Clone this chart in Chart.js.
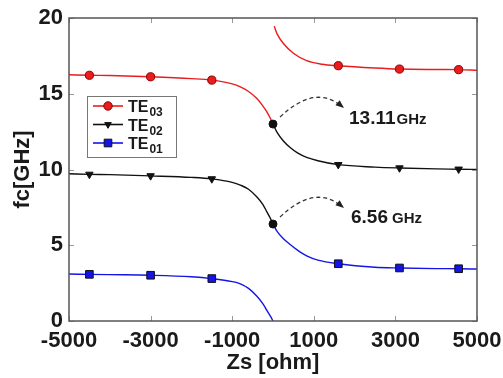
<!DOCTYPE html>
<html>
<head>
<meta charset="utf-8">
<script src="https://cdn.jsdelivr.net/npm/chart.js@4/dist/chart.umd.min.js"></script>
<style>
  html, body { margin: 0; padding: 0; background: #fff; }
  #wrap { width: 503px; height: 378px; }
</style>
</head>
<body>
<div id="wrap"><canvas id="fc-chart" width="503" height="378"></canvas></div>
<script>
// curve samples (Zs in ohm, fc in GHz)
var zLeft = [-5000, -4500, -4000, -3000, -2000, -1500, -1000, -800, -600, -400, -250, -150, -50, 0];
var te03Left = [16.25, 16.22, 16.2, 16.12, 16.0, 15.9, 15.65, 15.45, 15.15, 14.7, 14.2, 13.8, 13.3, 13.0];
var te02Left = [9.72, 9.68, 9.66, 9.58, 9.48, 9.38, 9.15, 8.97, 8.7, 8.2, 7.7, 7.2, 6.7, 6.4];
var te01Left = [3.1, 3.08, 3.06, 3.02, 2.92, 2.8, 2.6, 2.45, 2.15, 1.65, 1.15, 0.7, 0.25, 0];

var zRight = [0, 100, 250, 420, 600, 825, 1100, 1600, 2500, 3100, 4000, 4550, 5000];
var te02Right = [13.0, 12.45, 11.9, 11.45, 11.1, 10.8, 10.58, 10.32, 10.16, 10.1, 10.04, 10.02, 10.0];
var te01Right = [6.4, 5.92, 5.45, 5.05, 4.68, 4.3, 4.02, 3.78, 3.55, 3.5, 3.46, 3.45, 3.43];

var zTop = [30, 100, 250, 500, 825, 1200, 1600, 2500, 3100, 4000, 4550, 5000];
var te03Right = [19.45, 18.95, 18.33, 17.67, 17.18, 16.95, 16.85, 16.7, 16.63, 16.6, 16.59, 16.55];

// marker positions
var zMarkLeft = [-4500, -3000, -1500];
var zMarkRight = [1600, 3100, 4550];
var te03Marks = [16.22, 16.12, 15.9, 16.85, 16.63, 16.59];
var te02Marks = [9.68, 9.58, 9.38, 10.32, 10.1, 10.02];
var te01Marks = [3.08, 3.02, 2.8, 3.78, 3.5, 3.45];

// mode crossing points at Zs = 0
var zCross = [0, 0];
var fCross = [13.0, 6.4];
var crossLabels = ['13.11', '6.56'];

var xTicks = [-5000, -3000, -1000, 1000, 3000, 5000];
var yTicks = [0, 5, 10, 15, 20];

var RED = 'rgb(235,28,30)';
var BLACK = '#111';
var BLUE = 'rgb(20,20,232)';
var FONT = '"Liberation Sans", Arial, Helvetica, sans-serif';

function pts(xs, ys) {
  return xs.map(function (x, i) { return { x: x, y: ys[i] }; });
}

function curve(data, color) {
  return {
    data: data, showLine: true, borderColor: color, borderWidth: 1.4,
    pointRadius: 0, cubicInterpolationMode: 'monotone', order: 2
  };
}

function marks(data, style, fill, edge, radius, rotation) {
  return {
    data: data, showLine: false, pointStyle: style, pointRadius: radius,
    pointRotation: rotation || 0, pointBackgroundColor: fill,
    pointBorderColor: edge, pointBorderWidth: 1, order: 1
  };
}

var markZ = zMarkLeft.concat(zMarkRight);

var styles = {
  te03: { style: 'circle', fill: RED, edge: 'rgb(140,0,0)', radius: 4.1, rotation: 0, line: RED },
  te02: { style: 'triangle', fill: BLACK, edge: BLACK, radius: 4.3, rotation: 180, line: BLACK },
  te01: { style: 'rect', fill: BLUE, edge: '#111', radius: 5.4, rotation: 0, line: BLUE }
};

var decorPlugin = {
  id: 'decor',
  afterDatasetsDraw: function (chart) {
    var ctx = chart.ctx;
    var a = chart.chartArea;
    var xs = chart.scales.x, ys = chart.scales.y;
    ctx.save();

    // inward ticks
    ctx.strokeStyle = '#9a9a9a';
    ctx.lineWidth = 1;
    ctx.beginPath();
    xTicks.forEach(function (v) {
      var px = Math.round(xs.getPixelForValue(v)) + 0.5;
      ctx.moveTo(px, a.bottom); ctx.lineTo(px, a.bottom - 5);
      ctx.moveTo(px, a.top); ctx.lineTo(px, a.top + 5);
    });
    yTicks.forEach(function (v) {
      var py = Math.round(ys.getPixelForValue(v)) + 0.5;
      ctx.moveTo(a.left, py); ctx.lineTo(a.left + 5, py);
      ctx.moveTo(a.right, py); ctx.lineTo(a.right - 5, py);
    });
    ctx.stroke();

    // frame
    ctx.strokeStyle = '#555';
    ctx.lineWidth = 1.5;
    ctx.strokeRect(a.left, a.top, a.right - a.left, a.bottom - a.top);

    // dashed arrows and labels at the crossing points
    fCross.forEach(function (f, i) {
      var x0 = xs.getPixelForValue(zCross[i]);
      var y0 = ys.getPixelForValue(f);
      var sx = x0 + 7, sy = y0 - 7;
      var ex = x0 + 71, ey = y0 - 16;
      var cx = x0 + 42, cy = y0 - 40;
      ctx.setLineDash([4, 3]);
      ctx.strokeStyle = '#333';
      ctx.lineWidth = 1.3;
      ctx.beginPath();
      ctx.moveTo(sx, sy);
      ctx.quadraticCurveTo(cx, cy, ex - 3, ey - 2);
      ctx.stroke();
      ctx.setLineDash([]);
      // arrow head
      var ang = Math.atan2(ey - cy, ex - cx);
      ctx.fillStyle = '#222';
      ctx.beginPath();
      ctx.moveTo(ex, ey);
      ctx.lineTo(ex - 9 * Math.cos(ang - 0.38), ey - 9 * Math.sin(ang - 0.38));
      ctx.lineTo(ex - 9 * Math.cos(ang + 0.38), ey - 9 * Math.sin(ang + 0.38));
      ctx.closePath();
      ctx.fill();
      // text
      ctx.fillStyle = '#1a1a1a';
      ctx.textBaseline = 'alphabetic';
      ctx.textAlign = 'left';
      ctx.font = 'bold 19px ' + FONT;
      var tx = x0 + 76 + (i === 1 ? 2 : 0), ty = y0 + (i === 1 ? -1 : 0);
      ctx.fillText(crossLabels[i], tx, ty);
      var w = ctx.measureText(crossLabels[i]).width;
      ctx.font = 'bold 15px ' + FONT;
      ctx.fillText('GHz', tx + w + (i === 1 ? 4 : 1), ty);
    });

    // legend
    var lx = a.left + 18, ly = a.top + 78, lw = 89, lh = 61;
    ctx.fillStyle = '#fff';
    ctx.fillRect(lx, ly, lw, lh);
    ctx.strokeStyle = '#777';
    ctx.lineWidth = 1;
    ctx.strokeRect(lx + 0.5, ly + 0.5, lw, lh);
    var rows = [['te03', '03'], ['te02', '02'], ['te01', '01']];
    rows.forEach(function (r, i) {
      var s = styles[r[0]];
      var yy = ly + 10 + i * 18.5;
      ctx.strokeStyle = s.line;
      ctx.lineWidth = 1.6;
      ctx.beginPath();
      ctx.moveTo(lx + 6, yy); ctx.lineTo(lx + 36, yy);
      ctx.stroke();
      ctx.fillStyle = s.fill;
      ctx.strokeStyle = s.edge;
      ctx.lineWidth = 1;
      Chart.helpers.drawPoint(ctx, {
        pointStyle: s.style, rotation: s.rotation,
        radius: s.style === 'rect' ? 5.4 : (s.style === 'triangle' ? 3.8 : 4.2),
        borderWidth: 1
      }, lx + 21, yy);
      ctx.fillStyle = '#1a1a1a';
      ctx.textAlign = 'left';
      ctx.textBaseline = 'alphabetic';
      ctx.font = 'bold 16px ' + FONT;
      ctx.fillText('TE', lx + 41, yy + 6);
      var tw = ctx.measureText('TE').width;
      ctx.font = 'bold 12px ' + FONT;
      ctx.fillText(r[1], lx + 42 + tw, yy + 10);
    });

    ctx.restore();
  }
};

var canvas = document.getElementById('fc-chart');
var chart = new Chart(canvas, {
  type: 'scatter',
  data: {
    datasets: [
      curve(pts(zLeft, te03Left), RED),
      curve(pts(zTop, te03Right), RED),
      curve(pts(zLeft, te02Left), BLACK),
      curve(pts(zRight, te02Right), BLACK),
      curve(pts(zLeft, te01Left), BLUE),
      curve(pts(zRight, te01Right), BLUE),
      marks(pts(markZ, te03Marks), styles.te03.style, styles.te03.fill, styles.te03.edge, styles.te03.radius),
      marks(pts(markZ, te02Marks), styles.te02.style, styles.te02.fill, styles.te02.edge, styles.te02.radius, 180),
      marks(pts(markZ, te01Marks), styles.te01.style, styles.te01.fill, styles.te01.edge, styles.te01.radius),
      marks(pts(zCross, fCross), 'circle', BLACK, BLACK, 4)
    ]
  },
  options: {
    responsive: false,
    animation: false,
    layout: { padding: { top: 18, right: 26, left: 0, bottom: 0 } },
    plugins: { legend: { display: false }, tooltip: { enabled: false } },
    scales: {
      x: {
        type: 'linear', min: -5000, max: 5000,
        afterFit: function (s) { s.height = 57; s.paddingLeft = 0; s.paddingRight = 0; },
        afterBuildTicks: function (s) { s.ticks = xTicks.map(function (v) { return { value: v }; }); },
        grid: { display: false, drawTicks: false },
        border: { display: false },
        ticks: {
          padding: 7, color: '#1a1a1a', maxRotation: 0, autoSkip: false,
          font: { family: FONT, size: 22, weight: 'bold' },
          callback: function (v) { return String(v); }
        },
        title: {
          display: true, text: 'Zs [ohm]', color: '#1a1a1a',
          font: { family: FONT, size: 22, weight: 'bold' },
          padding: { top: 0, bottom: 2 }
        }
      },
      y: {
        type: 'linear', min: 0, max: 20,
        afterFit: function (s) { s.width = 69; s.paddingTop = 0; s.paddingBottom = 0; },
        afterBuildTicks: function (s) { s.ticks = yTicks.map(function (v) { return { value: v }; }); },
        grid: { display: false, drawTicks: false },
        border: { display: false },
        ticks: {
          padding: 6, color: '#1a1a1a',
          font: { family: FONT, size: 22, weight: 'bold' },
          callback: function (v) { return String(v); }
        },
        title: {
          display: true, text: 'fc[GHz]', color: '#1a1a1a',
          font: { family: FONT, size: 22, weight: 'bold' },
          padding: { top: 10, bottom: 0 }
        }
      }
    }
  },
  plugins: [decorPlugin]
});
</script>
</body>
</html>
